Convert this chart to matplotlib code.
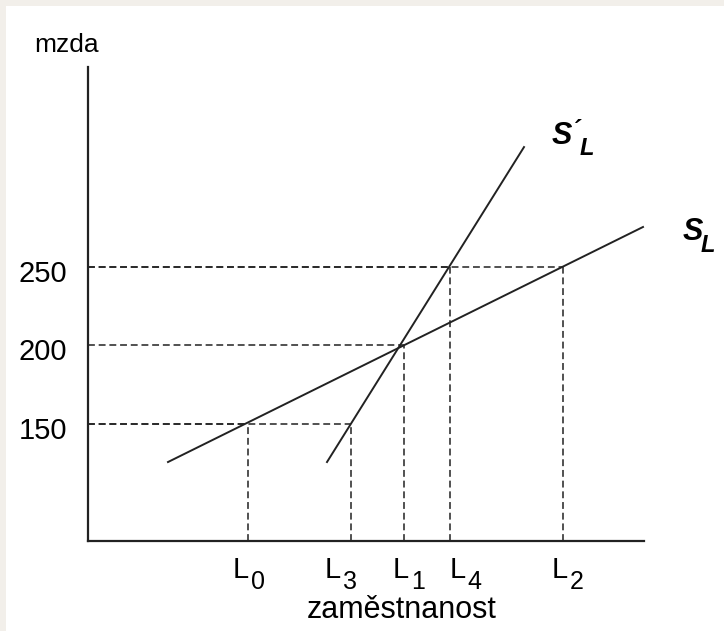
import matplotlib
matplotlib.use("Agg")
import matplotlib.pyplot as plt
from matplotlib.patches import Rectangle
from matplotlib.transforms import ScaledTranslation

plt.rcParams['font.family'] = ['Liberation Sans', 'DejaVu Sans']

# wage levels (mzda) and employment levels
wages = [150, 200, 250]
wage_labels = ['150', '200', '250']
emp_names = ['0', '3', '1', '4', '2']
emp_values = [16.0, 26.3, 31.6, 36.2, 47.5]
# which wage each employment level belongs to
emp_wage = [150, 150, 200, 250, 250]

# supply curves S_L and S'_L (end points)
sl_x = [8.0, 55.5]
sl_y = [125.5, 275.2]
sl2_x = [23.9, 43.6]
sl2_y = [125.5, 326.1]

# where the L labels start (they are not centred on the guides)
label_x = [14.5, 23.7, 30.5, 36.2, 46.4]

W, H = 724, 631
fig = plt.figure(figsize=(W / 100, H / 100), dpi=100)
fig.patch.set_facecolor('#f2efea')
fig.patches.append(Rectangle((6 / W, 0), 1, (H - 6) / H, transform=fig.transFigure,
                             facecolor='white', edgecolor='none', zorder=-5))

ax = fig.add_axes([88 / W, (H - 541) / H, (644 - 88) / W, (541 - 67) / H])
ax.set_facecolor('none')
ax.set_xlim(0, 55.6)
ax.set_ylim(75.2, 377.1)
for s in ['top', 'right']:
    ax.spines[s].set_visible(False)
for s in ['left', 'bottom']:
    ax.spines[s].set_linewidth(1.6)
    ax.spines[s].set_color('#222222')

ax.set_xticks([])
ax.set_yticks(wages)
ax.set_yticklabels(wage_labels, fontsize=21)
ax.tick_params(axis='y', length=0, pad=15)
shift = ScaledTranslation(0, -4 / 100, fig.dpi_scale_trans)
for lab in ax.get_yticklabels():
    lab.set_transform(lab.get_transform() + shift)

ink = '#222222'
dash = dict(color=ink, lw=1.1, ls=(0, (4.5, 2.5)))

# guides from the axes to the curve points
for x, w in zip(emp_values, emp_wage):
    ax.plot([x, x], [75.2, w], **dash)
    ax.plot([0, x], [w, w], **dash)

ax.plot(sl_x, sl_y, color=ink, lw=1.4, clip_on=False)
ax.plot(sl2_x, sl2_y, color=ink, lw=1.4, clip_on=False)

# L labels under the axis
for name, x in zip(emp_names, label_x):
    ax.annotate('L', xy=(x, 75.2), xytext=(0, -26.6), textcoords='offset points',
                fontsize=21, ha='left', va='baseline', annotation_clip=False)
    ax.annotate(name, xy=(x, 75.2), xytext=(12.8, -34.6), textcoords='offset points',
                fontsize=18, ha='left', va='baseline', annotation_clip=False)

fig.text(402 / W, 1 - 618 / H, 'zaměstnanost', fontsize=22, ha='center', va='baseline')
fig.text(67 / W, 1 - 52 / H, 'mzda', fontsize=19, ha='center', va='baseline')

# curve names
bi = dict(fontweight='bold', fontstyle='italic', va='center', ha='left')
fig.text(552 / W, 1 - 136 / H, 'S', fontsize=22, **bi)
fig.text(572 / W, 1 - 131 / H, '´', fontsize=18, **bi)
fig.text(580 / W, 1 - 149 / H, 'L', fontsize=17, **bi)
fig.text(683 / W, 1 - 232 / H, 'S', fontsize=22, **bi)
fig.text(701 / W, 1 - 245 / H, 'L', fontsize=17, **bi)

fig.savefig('out.png', dpi=100, facecolor=fig.get_facecolor())
